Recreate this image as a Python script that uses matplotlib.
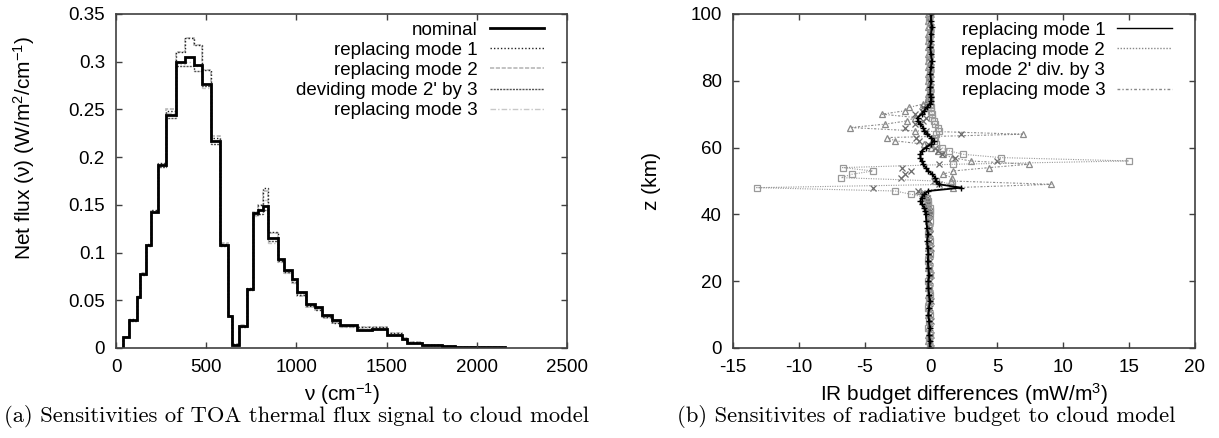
import matplotlib
matplotlib.use("Agg")
import matplotlib.pyplot as plt
from matplotlib.lines import Line2D

plt.rcParams['font.family'] = ['Liberation Sans', 'DejaVu Sans']
plt.rcParams['font.size'] = 13.5
plt.rcParams['mathtext.fontset'] = 'custom'
plt.rcParams['mathtext.rm'] = 'Liberation Sans'
plt.rcParams['mathtext.default'] = 'regular'

# ---- left panel: net flux per spectral band (step histogram)
edges = [41, 74, 115, 133, 165, 194, 232, 275, 331, 382,
         434, 475, 525, 576, 619, 645, 684, 724, 758, 789,
         817, 844, 900, 931, 974, 1002, 1053, 1103, 1140, 1196,
         1242, 1334, 1420, 1500, 1584, 1611, 1694, 1805, 1879, 2018,
         2157]
nominal = [0.011, 0.029, 0.053, 0.078, 0.108, 0.143, 0.192, 0.244, 0.300, 0.305,
           0.297, 0.277, 0.217, 0.108, 0.033, 0.003, 0.023, 0.062, 0.141, 0.145,
           0.149, 0.115, 0.093, 0.082, 0.072, 0.059, 0.046, 0.043, 0.035, 0.029,
           0.024, 0.019, 0.020, 0.014, 0.009, 0.005, 0.003, 0.0018, 0.001, 0.0006]
repl_mode1 = [0.011, 0.030, 0.054, 0.079, 0.109, 0.145, 0.194, 0.248, 0.310, 0.325,
              0.318, 0.291, 0.220, 0.109, 0.034, 0.004, 0.023, 0.063, 0.143, 0.150,
              0.168, 0.122, 0.091, 0.080, 0.069, 0.056, 0.044, 0.040, 0.032, 0.026,
              0.023, 0.022, 0.022, 0.016, 0.010, 0.006, 0.003, 0.002, 0.001, 0.0006]
repl_mode2 = [0.011, 0.029, 0.053, 0.079, 0.108, 0.144, 0.193, 0.250, 0.310, 0.325,
              0.318, 0.291, 0.222, 0.110, 0.034, 0.004, 0.024, 0.062, 0.142, 0.150,
              0.165, 0.120, 0.090, 0.079, 0.068, 0.055, 0.043, 0.040, 0.031, 0.026,
              0.022, 0.022, 0.022, 0.016, 0.010, 0.006, 0.003, 0.002, 0.001, 0.0006]
div_mode2 = [0.011, 0.028, 0.052, 0.077, 0.107, 0.142, 0.190, 0.241, 0.295, 0.295,
             0.290, 0.275, 0.214, 0.107, 0.033, 0.003, 0.022, 0.061, 0.139, 0.140,
             0.145, 0.112, 0.092, 0.081, 0.071, 0.058, 0.045, 0.042, 0.034, 0.028,
             0.023, 0.019, 0.020, 0.014, 0.009, 0.005, 0.003, 0.0018, 0.001, 0.0006]
repl_mode3 = [0.011, 0.029, 0.053, 0.078, 0.108, 0.143, 0.191, 0.246, 0.298, 0.300,
              0.295, 0.272, 0.218, 0.108, 0.033, 0.003, 0.023, 0.062, 0.138, 0.146,
              0.155, 0.110, 0.090, 0.079, 0.068, 0.056, 0.044, 0.041, 0.032, 0.027,
              0.022, 0.021, 0.022, 0.015, 0.010, 0.005, 0.003, 0.002, 0.001, 0.0006]

# ---- right panel: IR budget differences vs altitude
z_km = [0, 2, 4, 6, 8, 10, 12, 14, 16, 18, 20, 22, 24, 26, 28, 30, 32, 34, 36, 38, 40,
        41, 42, 43, 44, 45, 46, 47, 48, 49, 50, 51, 52, 53, 54, 55, 56, 57, 58, 59, 60,
        61, 62, 63, 64, 65, 66, 67, 68, 69, 70, 71, 72, 73, 74, 75, 76,
        78, 80, 82, 84, 86, 88, 90, 92, 94, 96, 98, 100]
b_mode1 = [-0.1, -0.1, -0.15, -0.1, -0.15, -0.2, -0.15, -0.1, -0.15, -0.2, -0.2,
           -0.15, -0.2, -0.25, -0.2, -0.25, -0.3, -0.25, -0.3, -0.35, -0.4,
           -0.45, -0.5, -0.7, -0.8, -0.7, -0.5, -0.2, 2.3, 0.6, 0.4, 0.3, 0.1, -0.2, -0.4,
           -0.6, -0.7, -0.8, -0.8, -0.7, -0.4, 0.0, 0.2, 0.0, -0.3, -0.5, -0.6, -0.8, -1.0,
           -1.0, -0.7, -0.5, -0.3, -0.1, 0.0, 0.0, -0.05,
           -0.05, 0.0, -0.05, 0.0, 0.05, 0.0, -0.05, 0.0, 0.0, 0.05, 0.0, 0.0]
b_mode2 = [-0.1, -0.15, -0.1, -0.2, -0.15, -0.1, -0.2, -0.15, -0.1, -0.15, -0.2,
           -0.1, -0.15, -0.2, -0.1, -0.15, -0.1, -0.2, -0.15, -0.1, -0.1,
           -0.1, -0.1, -0.2, -0.2, -0.3, -1.5, -2.7, -13.2, 1.6, 0.4, -6.8, -6.0, -4.4, -6.7,
           1.7, 15.0, 5.3, 2.4, 1.4, 0.8, 0.4, 0.2, 0.3, 0.4, 0.6, 0.5, 0.3, 0.2,
           0.1, 0.1, 0.0, 0.0, -0.1, -0.1, -0.1, -0.1,
           -0.1, -0.15, -0.1, -0.1, -0.15, -0.1, -0.1, -0.15, -0.1, -0.1, -0.15, -0.1]
b_div2 = [0.0, -0.05, 0.0, -0.05, 0.0, -0.1, -0.05, 0.0, -0.05, -0.1, -0.05,
          0.0, -0.05, -0.1, -0.05, 0.0, -0.1, -0.05, -0.1, -0.15, -0.1,
          -0.1, -0.2, -0.2, -0.3, -0.3, -0.6, -1.0, -4.4, 0.6, 0.2, -2.3, -2.0, -1.5, -2.2,
          0.6, 5.0, 1.8, 0.8, 0.5, 0.3, -0.2, -0.9, -1.1, 2.3, -0.4, -2.0, -1.2, -0.6,
          -0.4, -1.2, -0.7, -0.6, -0.2, -0.1, -0.1, 0.0,
          0.0, -0.05, 0.0, 0.0, -0.05, 0.0, 0.0, -0.05, 0.0, 0.0, -0.05, 0.0]
b_mode3 = [-0.2, -0.2, -0.25, -0.2, -0.15, -0.2, -0.25, -0.2, -0.2, -0.25, -0.2,
           -0.15, -0.2, -0.25, -0.2, -0.2, -0.25, -0.2, -0.2, -0.25, -0.2,
           -0.2, -0.2, -0.2, -0.3, -0.4, -0.6, -0.8, 1.7, 9.1, 1.5, 1.6, 0.9, 1.7, 4.4,
           7.4, 3.0, 1.6, 0.9, 0.5, 0.0, -0.5, -2.7, -3.3, 7.0, -1.2, -6.1, -3.5, -1.8,
           -1.2, -3.7, -2.0, -1.7, -0.6, -0.3, -0.2, -0.2,
           -0.2, -0.2, -0.25, -0.2, -0.2, -0.25, -0.2, -0.2, -0.25, -0.2, -0.2, -0.2]

fig = plt.figure(figsize=(12.19, 4.38), dpi=100)
ax1 = fig.add_axes([0.0952, 0.2055, 0.3700, 0.7626])
ax2 = fig.add_axes([0.6013, 0.2055, 0.3790, 0.7626])

spine_col = '#404040'

ax1.stairs(repl_mode3, edges, baseline=0, color='#c8c8c8', lw=1.0, ls=(0, (4, 1.5, 1, 1.5)),
           label='replacing mode 3')
ax1.stairs(repl_mode2, edges, baseline=0, color='#b8b8b8', lw=1.2, ls=(0, (2.5, 1)),
           label='replacing mode 2')
ax1.stairs(div_mode2, edges, baseline=0, color='#555555', lw=1.0, ls=(0, (1.5, 0.8)),
           label="deviding mode 2' by 3")
ax1.stairs(repl_mode1, edges, baseline=0, color='#222222', lw=1.0, ls=(0, (1, 1.5)),
           label='replacing mode 1')
ax1.stairs(nominal, edges, baseline=0, color='black', lw=2.0, label='nominal')

ax1.set_xlim(0, 2500)
ax1.set_ylim(0, 0.35)
ax1.set_xticks([0, 500, 1000, 1500, 2000, 2500])
ax1.set_yticks([0, 0.05, 0.1, 0.15, 0.2, 0.25, 0.3, 0.35])
ax1.set_yticklabels(['0', '0.05', '0.1', '0.15', '0.2', '0.25', '0.3', '0.35'])
ax1.set_xlabel('ν (cm$^{-1}$)', fontsize=15)
ax1.set_ylabel('Net flux (ν) (W/m$^2$/cm$^{-1}$)', fontsize=15)
ax1.xaxis.set_label_coords(0.5, -0.10)
ax1.yaxis.set_label_coords(-0.175, 0.60)

h, l = ax1.get_legend_handles_labels()
order = [4, 3, 1, 2, 0]
handles1 = [Line2D([], [], color='black', lw=2.0),
            Line2D([], [], color='#222222', lw=1.0, ls=(0, (1, 1.5))),
            Line2D([], [], color='#b8b8b8', lw=1.2, ls=(0, (2.5, 1))),
            Line2D([], [], color='#555555', lw=1.0, ls=(0, (1.5, 0.8))),
            Line2D([], [], color='#c8c8c8', lw=1.0, ls=(0, (4, 1.5, 1, 1.5)))]
labels1 = [l[i] for i in order]
leg1 = ax1.legend(handles1, labels1, loc='upper right', bbox_to_anchor=(0.962, 0.994),
                  frameon=False, markerfirst=False, handlelength=2.9, handletextpad=0.65,
                  labelspacing=0.16, borderaxespad=0.0, borderpad=0.3, fontsize=13.5)
for col in leg1._legend_handle_box.get_children():
    col.align = 'right'

# right panel
ax2.plot(b_mode3, z_km, color='#8a8a8a', lw=0.8, ls=(0, (2, 1.5, 1, 1.5)),
         marker='^', ms=4.5, mfc='none', mew=0.9)
ax2.plot(b_div2, z_km, color='#6a6a6a', lw=0, marker='x', ms=4.5, mew=0.9)
ax2.plot(b_mode2, z_km, color='#999999', lw=0.8, ls=(0, (1, 1.2)),
         marker='s', ms=4.5, mfc='none', mew=0.9)
ax2.plot(b_mode1, z_km, color='black', lw=1.3, marker='+', ms=5, mew=1.0)

ax2.set_xlim(-15, 20)
ax2.set_ylim(0, 100)
ax2.set_xticks([-15, -10, -5, 0, 5, 10, 15, 20])
ax2.set_yticks([0, 20, 40, 60, 80, 100])
ax2.set_xticklabels(['-15', '-10', '-5', '0', '5', '10', '15', '20'])
ax2.set_xlabel('IR budget differences (mW/m$^3$)', fontsize=15)
ax2.set_ylabel('z (km)', fontsize=15)
ax2.xaxis.set_label_coords(0.5, -0.10)
ax2.yaxis.set_label_coords(-0.156, 0.5)

handles2 = [Line2D([], [], color='black', lw=1.0),
            Line2D([], [], color='#888888', lw=1.0, ls=(0, (1, 1.2))),
            Line2D([], [], color='none'),
            Line2D([], [], color='#888888', lw=1.0, ls=(0, (2, 1.5, 1, 1.5)))]
labels2 = ['replacing mode 1', 'replacing mode 2', " mode 2' div. by 3", 'replacing mode 3']
leg2 = ax2.legend(handles2, labels2, loc='upper right', bbox_to_anchor=(0.962, 0.994),
                  frameon=False, markerfirst=False, handlelength=2.9, handletextpad=0.65,
                  labelspacing=0.16, borderaxespad=0.0, borderpad=0.3, fontsize=13.5)
for col in leg2._legend_handle_box.get_children():
    col.align = 'right'

for ax in (ax1, ax2):
    for s in ax.spines.values():
        s.set_color(spine_col)
        s.set_linewidth(1.2)
    ax.tick_params(direction='in', length=4, width=1.0, color=spine_col,
                   top=True, right=True, labelsize=13.5, pad=8)
    ax.tick_params(axis='x', pad=8)

fig.text(0.2436, 0.0365, '(a) Sensitivities of TOA thermal flux signal to cloud model',
         family='cmr10', fontsize=16.3, ha='center', va='baseline')
fig.text(0.760, 0.0365, '(b) Sensitivites of radiative budget to cloud model',
         family='cmr10', fontsize=16.3, ha='center', va='baseline')

fig.savefig('out.png', dpi=100)
